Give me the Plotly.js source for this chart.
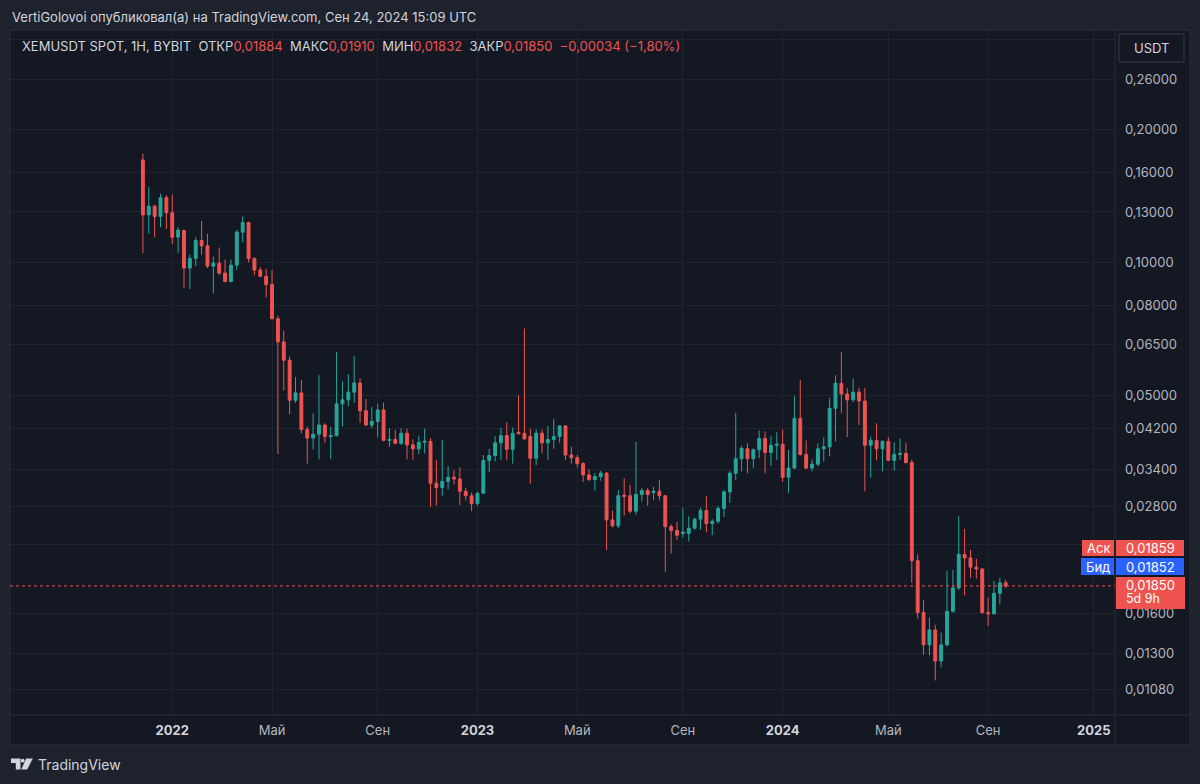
<!DOCTYPE html>
<html>
<head>
<meta charset="utf-8">
<script src="https://cdn.plot.ly/plotly-3.0.1.min.js"></script>
<style>
  html, body { margin: 0; padding: 0; background: #1e222d; }
  #chart { width: 1200px; height: 784px; }
</style>
</head>
<body>
<div id="chart"></div>
<script>
// ---------- DATA (weekly candles, XEM/USDT) ----------
const dates = [
  '2021-11-29','2021-12-06','2021-12-13','2021-12-20','2021-12-27',
  '2022-01-03','2022-01-10','2022-01-17','2022-01-24','2022-01-31','2022-02-07','2022-02-14','2022-02-21','2022-02-28',
  '2022-03-07','2022-03-14','2022-03-21','2022-03-28','2022-04-04','2022-04-11','2022-04-18','2022-04-25','2022-05-02',
  '2022-05-09','2022-05-16','2022-05-23','2022-05-30','2022-06-06','2022-06-13','2022-06-20','2022-06-27','2022-07-04',
  '2022-07-11','2022-07-18','2022-07-25','2022-08-01','2022-08-08','2022-08-15','2022-08-22','2022-08-29','2022-09-05',
  '2022-09-12','2022-09-19','2022-09-26','2022-10-03','2022-10-10','2022-10-17','2022-10-24','2022-10-31','2022-11-07',
  '2022-11-14','2022-11-21','2022-11-28','2022-12-05','2022-12-12','2022-12-19','2022-12-26',
  '2023-01-02','2023-01-09','2023-01-16','2023-01-23','2023-01-30','2023-02-06','2023-02-13','2023-02-20','2023-02-27',
  '2023-03-06','2023-03-13','2023-03-20','2023-03-27','2023-04-03','2023-04-10','2023-04-17','2023-04-24','2023-05-01',
  '2023-05-08','2023-05-15','2023-05-22','2023-05-29','2023-06-05','2023-06-12','2023-06-19','2023-06-26','2023-07-03',
  '2023-07-10','2023-07-17','2023-07-24','2023-07-31','2023-08-07','2023-08-14','2023-08-21','2023-08-28','2023-09-04',
  '2023-09-11','2023-09-18','2023-09-25','2023-10-02','2023-10-09','2023-10-16','2023-10-23','2023-10-30','2023-11-06',
  '2023-11-13','2023-11-20','2023-11-27','2023-12-04','2023-12-11','2023-12-18','2023-12-25',
  '2024-01-01','2024-01-08','2024-01-15','2024-01-22','2024-01-29','2024-02-05','2024-02-12','2024-02-19','2024-02-26',
  '2024-03-04','2024-03-11','2024-03-18','2024-03-25','2024-04-01','2024-04-08','2024-04-15','2024-04-22','2024-04-29',
  '2024-05-06','2024-05-13','2024-05-20','2024-05-27','2024-06-03','2024-06-10','2024-06-17','2024-06-24','2024-07-01',
  '2024-07-08','2024-07-15','2024-07-22','2024-07-29','2024-08-05','2024-08-12','2024-08-19','2024-08-26','2024-09-02',
  '2024-09-09','2024-09-16','2024-09-23'
];
const openP = [
  .1705,.128,.134,.127,.140, .1295,.114,.118,.097,.102, .112,.109,.098,.0995,.0945,
  .0905,.0985,.117,.123,.102, .096,.093,.089,.0745,.066, .060,.0487,.0506,.0418,.040,
  .0408,.0428,.0403,.0405,.0478, .0488,.0508,.0533,.0461,.0428, .0436,.0463,.0395,.0397,.0389,
  .041,.0386,.0378,.0391,.0393, .0316,.0309,.0319,.0326,.0323, .0303,.0296,.0284,.030,.0356,
  .0365,.039,.0405,.0377,.0412, .041,.0403,.036,.041,.039, .0397,.0403,.0426,.0366,.0361,
  .035,.033,.0322,.0327,.0333, .0261,.0253,.0297,.0296,.0273, .0298,.0304,.0301,.0303,.0296,
  .0252,.0247,.0243,.0243,.025, .0262,.0274,.0256,.0259,.0277, .0302,.0333,.0359,.0378,.0359,
  .0376,.0399,.0371,.0385,.0387, .0326,.0342,.0443,.0367,.0342, .0349,.0378,.0382,.0467,.0532,
  .0503,.0488,.0508,.0485,.0385, .0395,.0378,.0393,.0356,.0367, .0369,.0352,.0211,.0161,.0136,
  .0147,.0125,.0136,.0162,.0183, .0218,.0214,.0204,.0202,.0161, .016,.0178,.0188
];
const highP = [
  .176,.148,.135,.143,.142, .142,.120,.1185,.104,.114, .124,.116,.103,.108,.1015,
  .1015,.1183,.127,.1235,.1025, .0975,.0965,.096,.0757,.070, .0612,.055,.0541,.0425,.0455,
  .0555,.0432,.0424,.0627,.0537, .0558,.0614,.0546,.049,.047, .0478,.0481,.0421,.0417,.0421,
  .042,.0397,.0405,.042,.040, .0357,.0396,.0345,.0338,.0343, .0308,.0301,.0302,.0366,.0378,
  .0404,.0422,.0434,.0422,.050, .0708,.042,.0418,.0418,.0426, .0442,.0428,.0428,.0382,.0366,
  .0353,.034,.0333,.0337,.0335, .0274,.0305,.0324,.0313,.0392, .0308,.0308,.031,.0321,.0297,
  .0255,.0258,.0278,.0266,.0264, .0278,.0295,.0262,.0281,.0305, .0337,.0456,.0384,.0389,.0379,
  .0416,.0414,.0404,.0412,.0418, .0376,.0497,.0541,.0395,.0357, .0389,.0401,.0493,.0555,.0626,
  .0519,.0545,.0519,.052,.0403, .0432,.0395,.0402,.0391,.0399, .039,.0357,.0218,.0172,.0157,
  .0151,.0145,.020,.0201,.0266, .0249,.0223,.0213,.0203,.0174, .019,.0193,.0191
];
const lowP = [
  .105,.116,.114,.120,.119, .110,.105,.0875,.087,.098, .104,.097,.085,.0935,.090,
  .090,.096,.111,.100,.0935, .0925,.0832,.0743,.0368,.0513, .0453,.048,.041,.035,.0377,
  .0358,.039,.0358,.0403,.0425, .0472,.048,.0433,.0426,.0421, .0402,.0393,.0382,.0387,.0386,
  .0358,.0357,.0368,.0369,.0279, .0281,.0296,.0306,.0314,.0282, .0289,.0273,.0281,.0299,.0335,
  .0354,.0357,.0356,.035,.0408, .0397,.0315,.0347,.0369,.0357, .0378,.039,.0357,.035,.0343,
  .0318,.032,.0304,.032,.0223, .0251,.025,.0267,.027,.0268, .0287,.0281,.0289,.0289,.0199,
  .0219,.0235,.0238,.0233,.0248, .0248,.0245,.0241,.0256,.0265, .0285,.0321,.0336,.0333,.0342,
  .036,.0333,.0346,.0357,.0318, .030,.034,.0365,.034,.0336, .0345,.0354,.0364,.0393,.0456,
  .0402,.0482,.0428,.0303,.0325, .0356,.0336,.0355,.0337,.0357, .035,.0188,.0156,.0129,.0129,
  .0113,.0121,.0135,.0161,.0181, .0176,.0193,.0192,.016,.015, .0159,.0168,.0183
];
const closeP = [
  .128,.134,.127,.140,.1295, .114,.1183,.097,.102,.112, .109,.098,.0995,.0945,.0905,
  .0985,.117,.123,.102,.096, .093,.089,.0745,.066,.060, .0487,.0506,.0418,.040,.0408,
  .0428,.0403,.0405,.0478,.0488, .0508,.0533,.0461,.0428,.0436, .0463,.0395,.0397,.0389,.041,
  .0386,.0378,.0391,.0393,.0316, .0309,.0319,.0326,.0323,.0303, .0296,.0284,.030,.0356,.0365,
  .039,.0405,.0377,.041,.0409, .0398,.036,.041,.039,.0397, .0403,.0426,.0366,.0361,.035,
  .033,.0322,.0327,.0333,.0261, .0253,.0296,.0295,.0273,.0298, .0304,.0298,.0303,.0296,.0252,
  .0247,.0241,.0245,.025,.0262, .0274,.0256,.0259,.0277,.0302, .0333,.0359,.0379,.0359,.0376,
  .0399,.0371,.0385,.0387,.0326, .0342,.0443,.0367,.0342,.0349, .0378,.0382,.0467,.0532,.0503,
  .0488,.0508,.0485,.0385,.0395, .0378,.0393,.0356,.0367,.0369, .0352,.0211,.0161,.0136,.0147,
  .0125,.0136,.0162,.0183,.0218, .0214,.0204,.0202,.0161,.016, .0178,.0188,.0185
];

// axis ticks (0.32 and 0.023 labels are hidden behind the price-scale boxes in the original)
const priceTicks = [0.32, 0.26, 0.20, 0.16, 0.13, 0.10, 0.08, 0.065, 0.05, 0.042, 0.034, 0.028, 0.023, 0.016, 0.013, 0.0108];
const priceTickText = ['', '0,26000', '0,20000', '0,16000', '0,13000', '0,10000', '0,08000', '0,06500', '0,05000',
                       '0,04200', '0,03400', '0,02800', '', '0,01600', '0,01300', '0,01080'];
const timeTicks = ['2022-01-03','2022-05-02','2022-09-05','2023-01-02','2023-05-01','2023-09-04','2024-01-01','2024-05-06','2024-09-02','2025-01-06'];
const timeTickText = ['2022','Май','Сен','2023','Май','Сен','2024','Май','Сен','2025'];
const yearTicks = ['2022','2023','2024','2025'];

// header / legend texts
const headerText = 'VertiGolovoi опубликовал(а) на TradingView.com, Сен 24, 2024 15:09 UTC';
const symbolText = 'XEMUSDT SPOT, 1H, BYBIT';
const ohlcLabels = ['ОТКР', 'МАКС', 'МИН', 'ЗАКР'];
const ohlcValues = ['0,01884', '0,01910', '0,01832', '0,01850'];
const changeText = '−0,00034 (−1,80%)';
const askLabel = 'Аск', askPrice = '0,01859';
const bidLabel = 'Бид', bidPrice = '0,01852';
const lastClose = 0.0185;
const lastLabel = '0,01850', countdown = '5d 9h';
const currency = 'USDT';

// ---------- STYLE ----------
const UP = '#26a69a', DOWN = '#ef5350', BLUE = '#2962ff';
const PANEL = '#141823', OUTER = '#1e222d', BORDER = '#2a2e39', GRID = '#20242f';
const TXT = '#d1d4dc', TXT2 = '#b2b5be';
const FONT = 'Inter, "Noto Sans", "DejaVu Sans", sans-serif';

// pixel helpers (plot area: x 10..1115, y 30..715)
const PL = 10, PR = 1115, PT = 30, PB = 715;
const px = x => (x - PL) / (PR - PL);
const py = y => (PB - y) / (PB - PT);

function rect(x0, y0, x1, y1, fill, line, layer) {
  return {type: 'rect', xref: 'paper', yref: 'paper', x0: px(x0), x1: px(x1), y0: py(y1), y1: py(y0),
          fillcolor: fill, line: {color: line || fill, width: line ? 1 : 0}, layer: layer || 'above'};
}
function poly(points, fill) {
  const d = points.map((p, i) => (i ? 'L' : 'M') + px(p[0]).toFixed(5) + ',' + py(p[1]).toFixed(5)).join(' ') + ' Z';
  return {type: 'path', xref: 'paper', yref: 'paper', path: d, fillcolor: fill, line: {width: 0}, layer: 'above'};
}
function note(text, x, y, opts) {
  return Object.assign({xref: 'paper', yref: 'paper', x: px(x), y: py(y), text: text, showarrow: false,
    xanchor: 'left', yanchor: 'middle', font: {family: FONT, size: 13, color: TXT}}, opts || {});
}

const ticktextStyled = timeTickText.map(t => yearTicks.includes(t)
  ? '<b><span style="color:' + TXT + '">' + t + '</span></b>' : t);

let legendHtml = symbolText + '\u00a0\u00a0';
ohlcLabels.forEach((lab, i) => {
  legendHtml += lab + '<span style="color:' + DOWN + '">' + ohlcValues[i] + '</span>\u00a0\u00a0';
});
legendHtml += '<span style="color:' + DOWN + '">' + changeText + '</span>';

const trace = {
  type: 'candlestick',
  x: dates, open: openP, high: highP, low: lowP, close: closeP,
  increasing: {line: {color: UP, width: 1}, fillcolor: UP},
  decreasing: {line: {color: DOWN, width: 1}, fillcolor: DOWN},
  whiskerwidth: 0,
  hoverinfo: 'skip',
  showlegend: false
};

const shapes = [
  rect(10, 30, 1190, 745, PANEL, BORDER, 'below'),
  {type: 'line', xref: 'paper', yref: 'paper', x0: px(10), x1: px(1190), y0: py(715), y1: py(715), line: {color: BORDER, width: 1}, layer: 'above'},
  {type: 'line', xref: 'paper', yref: 'paper', x0: px(1115), x1: px(1115), y0: py(30), y1: py(745), line: {color: BORDER, width: 1}, layer: 'above'},
  {type: 'line', xref: 'paper', yref: 'y', x0: 0, x1: 1, y0: lastClose, y1: lastClose, line: {color: DOWN, width: 1, dash: 'dot'}, layer: 'above'},
  rect(1119, 34, 1184, 62, PANEL, '#363a45'),
  rect(1082, 540, 1114, 556, DOWN),
  rect(1116, 540, 1184, 556, DOWN),
  rect(1081, 558, 1114, 575, BLUE),
  rect(1116, 558, 1184, 575, BLUE),
  rect(1116, 577, 1185, 609, DOWN),
  // TradingView logo
  poly([[11, 758.5], [20.5, 758.5], [20.5, 769.5], [15.8, 769.5], [15.8, 763], [11, 763]], TXT),
  poly([[26.2, 758.5], [32.8, 758.5], [27.2, 769.5], [21.2, 769.5]], TXT),
  {type: 'circle', xref: 'paper', yref: 'paper', x0: px(20.8), x1: px(24.6), y0: py(762.6), y1: py(758.8), fillcolor: TXT, line: {width: 0}, layer: 'above'}
];

const annotations = [
  note(headerText, 10, 17, {font: {family: FONT, size: 13, color: TXT}}),
  note(legendHtml, 20, 46, {font: {family: FONT, size: 13, color: TXT}}),
  note(currency, 1151.5, 48, {xanchor: 'center', font: {family: FONT, size: 13, color: TXT}}),
  note(askLabel, 1098, 548, {xanchor: 'center', font: {family: FONT, size: 13, color: '#ffffff'}}),
  note(askPrice, 1124, 548, {font: {family: FONT, size: 13, color: '#ffffff'}}),
  note(bidLabel, 1097.5, 566.5, {xanchor: 'center', font: {family: FONT, size: 13, color: '#ffffff'}}),
  note(bidPrice, 1124, 566.5, {font: {family: FONT, size: 13, color: '#ffffff'}}),
  note(lastLabel, 1124, 585, {font: {family: FONT, size: 13, color: '#ffffff'}}),
  note(countdown, 1124, 598.5, {font: {family: FONT, size: 12.5, color: '#ffffff'}}),
  note('TradingView', 36, 765, {font: {family: FONT, size: 14, color: TXT}})
];

const layout = {
  width: 1200, height: 784,
  margin: {l: PL, r: 1200 - PR, t: PT, b: 784 - PB, pad: 0},
  paper_bgcolor: OUTER,
  plot_bgcolor: PANEL,
  font: {family: FONT, size: 13, color: TXT2},
  showlegend: false,
  xaxis: {
    type: 'date',
    range: ['2021-06-23 12:00', '2025-01-31 08:00'],
    rangeslider: {visible: false},
    tickmode: 'array', tickvals: timeTicks, ticktext: ticktextStyled,
    showgrid: true, gridcolor: GRID, gridwidth: 1,
    ticks: '', showline: false, zeroline: false,
    tickfont: {family: FONT, size: 13, color: TXT2},
    ticklabelstandoff: 6,
    fixedrange: true
  },
  yaxis: {
    type: 'log', side: 'right',
    range: [Math.log10(0.0094364), Math.log10(0.33568)],
    tickmode: 'array', tickvals: priceTicks, ticktext: priceTickText,
    showgrid: true, gridcolor: GRID, gridwidth: 1,
    ticks: '', showline: false, zeroline: false,
    tickfont: {family: FONT, size: 13, color: TXT2},
    ticklabelstandoff: 9,
    fixedrange: true
  },
  shapes: shapes,
  annotations: annotations
};

Plotly.newPlot('chart', [trace], layout, {staticPlot: true, displayModeBar: false});
</script>
</body>
</html>
